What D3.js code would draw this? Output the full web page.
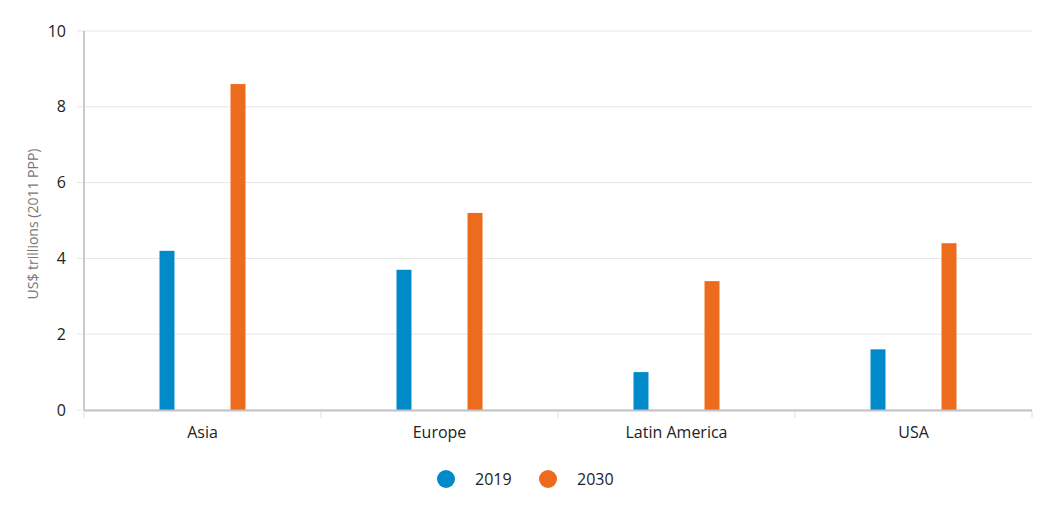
<!DOCTYPE html>
<html>
<head>
<meta charset="utf-8">
<script src="https://cdn.jsdelivr.net/npm/d3@7"></script>
<style>
  body { margin: 0; background: #fff; }
  text { font-family: "Open Sans", "Lato", sans-serif; }
</style>
</head>
<body>
<div id="chart"></div>
<script>
const regions = ["Asia", "Europe", "Latin America", "USA"];
const years = ["2019", "2030"];
const values2019 = [4.2, 3.7, 1.0, 1.6];
const values2030 = [8.6, 5.2, 3.4, 4.4];
const yTicks = [0, 2, 4, 6, 8, 10];
const colors = ["#008ac9", "#ec6b1c"];

const width = 1054, height = 507;
const margin = { top: 31, right: 22, bottom: 97, left: 84 };

const svg = d3.select("#chart").append("svg")
  .attr("width", width)
  .attr("height", height);

const x = d3.scaleBand()
  .domain(regions)
  .range([margin.left, width - margin.right]);

// two thin bars per region, wide gap between them
const inner = d3.scaleBand()
  .domain(years)
  .range([0, x.bandwidth()])
  .paddingInner(0.789)
  .paddingOuter(1.063);

const y = d3.scaleLinear()
  .domain([0, 10])
  .range([height - margin.bottom, margin.top]);

// grid lines
svg.append("g")
  .selectAll("line")
  .data(yTicks)
  .enter().append("line")
  .attr("x1", margin.left - 7)
  .attr("x2", width - margin.right)
  .attr("y1", function(d) { return y(d); })
  .attr("y2", function(d) { return y(d); })
  .attr("stroke", "#e6e6e6")
  .attr("stroke-width", 1);

// y tick labels
svg.append("g")
  .selectAll("text")
  .data(yTicks)
  .enter().append("text")
  .attr("x", margin.left - 18)
  .attr("y", function(d) { return y(d); })
  .attr("dy", "0.35em")
  .attr("text-anchor", "end")
  .attr("font-size", 16)
  .attr("fill", "#222")
  .text(function(d) { return d; });

// y axis title
svg.append("text")
  .attr("transform", "translate(38,224) rotate(-90)")
  .attr("text-anchor", "middle")
  .attr("font-size", 14)
  .attr("fill", "#767676")
  .text("US$ trillions (2011 PPP)");

// bars
const series = [values2019, values2030];
const groups = svg.append("g")
  .selectAll("g")
  .data(regions)
  .enter().append("g")
  .attr("transform", function(d) { return "translate(" + x(d) + ",0)"; });

groups.selectAll("rect")
  .data(function(d, i) { return years.map(function(yr, j) { return { year: yr, value: series[j][i], c: colors[j] }; }); })
  .enter().append("rect")
  .attr("x", function(d) { return inner(d.year); })
  .attr("width", inner.bandwidth())
  .attr("y", function(d) { return y(d.value); })
  .attr("height", function(d) { return y(0) - y(d.value); })
  .attr("fill", function(d) { return d.c; });

// y axis line
svg.append("line")
  .attr("x1", margin.left).attr("x2", margin.left)
  .attr("y1", margin.top).attr("y2", y(0))
  .attr("stroke", "#c8cad0")
  .attr("stroke-width", 2);

// x axis line
svg.append("line")
  .attr("x1", margin.left).attr("x2", width - margin.right)
  .attr("y1", y(0) + 0.5).attr("y2", y(0) + 0.5)
  .attr("stroke", "#c0c2c8")
  .attr("stroke-width", 2);

// x ticks at band boundaries
const bounds = regions.map(function(r) { return x(r); }).concat([x.range()[1]]);
svg.append("g")
  .selectAll("line")
  .data(bounds)
  .enter().append("line")
  .attr("x1", function(d) { return d; })
  .attr("x2", function(d) { return d; })
  .attr("y1", y(0) + 1)
  .attr("y2", y(0) + 8)
  .attr("stroke", "#dcdde0")
  .attr("stroke-width", 1);

// x labels
svg.append("g")
  .selectAll("text")
  .data(regions)
  .enter().append("text")
  .attr("x", function(d) { return x(d) + x.bandwidth() / 2; })
  .attr("y", y(0) + 28)
  .attr("text-anchor", "middle")
  .attr("font-size", 16)
  .attr("fill", "#222")
  .text(function(d) { return d; });

// legend
const legend = svg.append("g")
  .selectAll("g")
  .data(years)
  .enter().append("g")
  .attr("transform", function(d, i) { return "translate(" + (446 + i * 102) + ",479)"; });

legend.append("circle")
  .attr("r", 9)
  .attr("fill", function(d, i) { return colors[i]; });

legend.append("text")
  .attr("x", 29)
  .attr("dy", "0.35em")
  .attr("font-size", 16)
  .attr("fill", "#222")
  .text(function(d) { return d; });
</script>
</body>
</html>
